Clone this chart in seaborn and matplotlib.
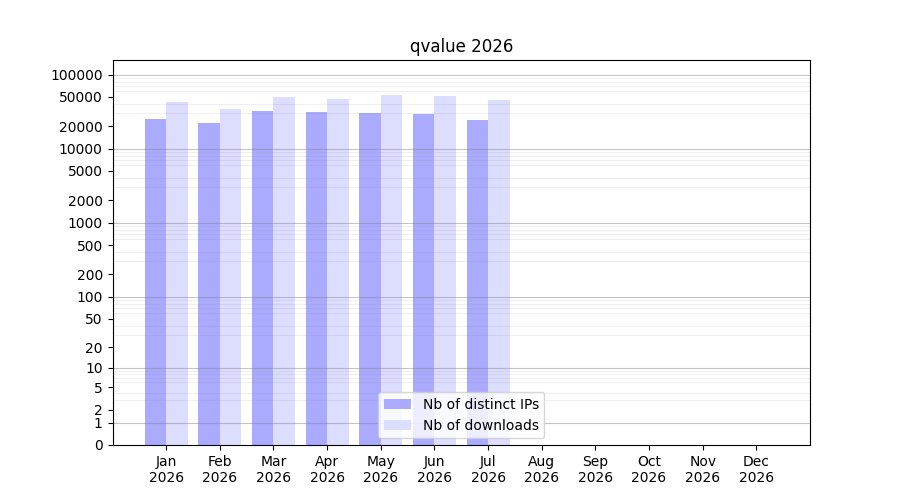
import numpy as np
import pandas as pd
import matplotlib
matplotlib.use("Agg")
import matplotlib.pyplot as plt
import seaborn as sns

# --- data ---
months = ["Jan\n2026", "Feb\n2026", "Mar\n2026", "Apr\n2026", "May\n2026", "Jun\n2026",
          "Jul\n2026", "Aug\n2026", "Sep\n2026", "Oct\n2026", "Nov\n2026", "Dec\n2026"]
months_with_data = months[:7]
distinct_ips = [24900, 22000, 31900, 30900, 30700, 29000, 24100]
downloads = [42300, 34000, 49800, 46400, 52500, 50900, 45000]
series_names = ["Nb of distinct IPs", "Nb of downloads"]
ytick_values = [0, 1, 2, 5, 10, 20, 50, 100, 200, 500, 1000, 2000, 5000,
                10000, 20000, 50000, 100000]

df = pd.DataFrame({
    "month": months_with_data * 2,
    "value": distinct_ips + downloads,
    "series": [series_names[0]] * 7 + [series_names[1]] * 7,
})

fig, ax = plt.subplots(figsize=(9, 5), dpi=100)

# y scale: log10(1 + x)
def fwd(x):
    return np.log10(1 + np.clip(x, 0, None))

def inv(y):
    return 10 ** y - 1

ax.set_yscale("function", functions=(fwd, inv))

sns.barplot(data=df, x="month", y="value", hue="series", order=months,
            hue_order=series_names, palette=["#aaaaff", "#ddddff"],
            width=0.8, saturation=1, linewidth=0, edgecolor="none",
            ax=ax, zorder=1)

ax.set_xlim(-1, 12)
ax.set_ylim(0, max(downloads) * 3)
ax.set_xlabel("")
ax.set_ylabel("")
ax.set_title("qvalue 2026")

ax.set_yticks(ytick_values)
ax.set_yticklabels([str(v) for v in ytick_values])

# light grid at every k*10^n, darker at powers of ten
minor = [k * 10 ** n for n in range(0, 6) for k in range(2, 10) if k * 10 ** n <= 150000]
ax.set_yticks(minor, minor=True)
ax.tick_params(axis="y", which="minor", length=0)
ax.grid(False)
ax.grid(True, axis="y", which="minor", color="gray", alpha=0.12, linewidth=0.8, zorder=1.5)
for p in range(0, 6):
    ax.axhline(10 ** p, color="gray", alpha=0.45, linewidth=0.8, zorder=1.6)

handles, labels = ax.get_legend_handles_labels()
ax.legend(handles, labels, loc="lower center")

plt.savefig("out.png")
